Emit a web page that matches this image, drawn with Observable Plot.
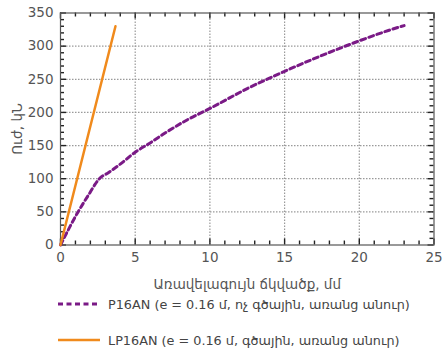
<!DOCTYPE html>
<html><head><meta charset="utf-8">
<script src="https://cdn.jsdelivr.net/npm/d3@7"></script>
<script src="https://cdn.jsdelivr.net/npm/@observablehq/plot@0.6"></script>
<style>
body{margin:0;background:#fff;font-family:"DejaVu Sans",sans-serif;}
#legend{margin-left:57px;margin-top:-6px;font-size:12.8px;color:#444;}
.row{display:flex;align-items:center;height:36px;}
.row svg{margin-right:7px;}
</style></head><body>
<div id="chart"></div>
<div id="legend"></div>
<script>
const p16X = [0, 0.5, 1.0, 1.5, 2.0, 2.3, 2.6, 3.2, 4, 5, 6, 7, 8.5, 10, 12.5, 15, 17.5, 20, 22, 23];
const p16Y = [0, 22, 43, 62, 80, 91, 100, 109, 122, 140, 154, 169, 189, 206, 236, 262, 286, 308, 324, 331];
const lp16X = [0, 3.68];
const lp16Y = [0, 330];
const xTicks = [0, 5, 10, 15, 20, 25];
const yTicks = [0, 50, 100, 150, 200, 250, 300, 350];
const seriesNames = ["P16AN (e = 0.16 մ, ոչ գծային, առանց անուր)", "LP16AN (e = 0.16 մ, գծային, առանց անուր)"];
const colors = ["#7a1a86", "#f08a1c"];

const p16 = p16X.map((x, i) => ({x, y: p16Y[i]}));
const lp16 = lp16X.map((x, i) => ({x, y: lp16Y[i]}));
const xMinor = d3.range(0, 26, 1);
const yMinor = d3.range(0, 351, 10);

const W = 445, H = 292, mL = 60, mR = 11.5, mT = 12.5, mB = 47.5;
const iW = W - mL - mR, iH = H - mT - mB;
const xDom = [0, 25], yDom = [0, 350];
const ty = (px) => px * (yDom[1] - yDom[0]) / iH;
const tx = (px) => px * (xDom[1] - xDom[0]) / iW;

const plot = Plot.plot({
  width: W, height: H,
  marginLeft: mL, marginRight: mR, marginTop: mT, marginBottom: mB,
  style: {fontFamily: "DejaVu Sans, sans-serif", fontSize: "13.5px", color: "#555"},
  x: {domain: xDom},
  y: {domain: yDom},
  marks: [
    Plot.ruleX(xTicks.slice(1, -1), {x: d => d, stroke: "#9a9a9a", strokeWidth: 1.2, strokeDasharray: "1.5,1.5"}),
    Plot.ruleY(yTicks.slice(1, -1), {y: d => d, stroke: "#9a9a9a", strokeWidth: 1.2, strokeDasharray: "1.5,1.5"}),
    Plot.ruleX(xMinor, {x: d => d, y1: yDom[0], y2: d => yDom[0] + ty(xTicks.includes(d) ? 6 : 4), stroke: "#222", strokeWidth: 1.4}),
    Plot.ruleX(xMinor, {x: d => d, y1: yDom[1], y2: d => yDom[1] - ty(xTicks.includes(d) ? 6 : 4), stroke: "#222", strokeWidth: 1.4}),
    Plot.ruleY(yMinor, {y: d => d, x1: xDom[0], x2: d => xDom[0] + tx(yTicks.includes(d) ? 6 : 4), stroke: "#222", strokeWidth: 1.4}),
    Plot.ruleY(yMinor, {y: d => d, x1: xDom[1], x2: d => xDom[1] - tx(yTicks.includes(d) ? 6 : 4), stroke: "#222", strokeWidth: 1.4}),
    Plot.frame({stroke: "#555", strokeWidth: 1.2}),
    Plot.axisX(xTicks, {anchor: "bottom", tickSize: 0, tickPadding: 7, label: "Առավելագույն ճկվածք, մմ", labelAnchor: "center", labelOffset: 44, labelArrow: "none", fontSize: 13.5}),
    Plot.axisY(yTicks, {anchor: "left", tickSize: 0, tickPadding: 7, label: "Ուժ, կՆ", labelAnchor: "center", labelOffset: 48, labelArrow: "none", fontSize: 13.5}),
    Plot.line(p16, {x: "x", y: "y", stroke: colors[0], strokeWidth: 3, strokeDasharray: "5,3.5", curve: "monotone-x"}),
    Plot.line(lp16, {x: "x", y: "y", stroke: colors[1], strokeWidth: 2.5})
  ]
});
document.getElementById("chart").appendChild(plot);

const leg = document.getElementById("legend");
seriesNames.forEach((name, i) => {
  const row = document.createElement("div");
  row.className = "row";
  const dash = i === 0 ? 'stroke-dasharray="5,3.5"' : '';
  row.innerHTML = `<svg width="44" height="10"><line x1="1" y1="5" x2="43" y2="5" stroke="${colors[i]}" stroke-width="${i===0?3:2.5}" ${dash}/></svg><span>${name}</span>`;
  leg.appendChild(row);
});
</script>
</body></html>
